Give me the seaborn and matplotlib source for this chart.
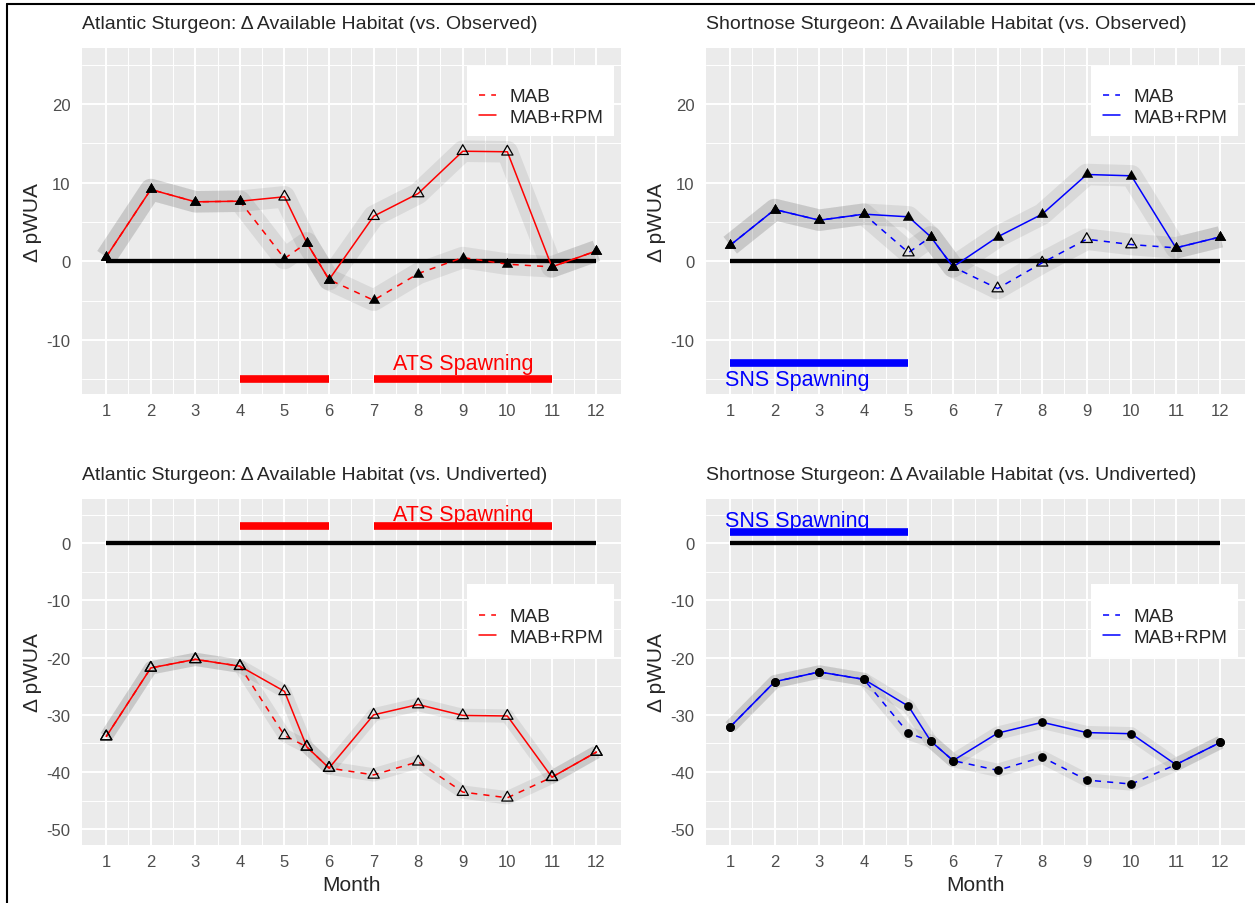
import numpy as np
import pandas as pd
import matplotlib
matplotlib.use("Agg")
import matplotlib.pyplot as plt
import seaborn as sns
from matplotlib.lines import Line2D
from matplotlib.patches import Rectangle

# ---------------- data ----------------
months = [1, 2, 3, 4, 5, 5.5, 6, 7, 8, 9, 10, 11, 12]
month_ticks = list(range(1, 13))
series_names = ["MAB", "MAB+RPM"]

# Atlantic sturgeon vs observed
ats_obs_mab = [0.55, 9.13, 7.56, 7.64, 0.34, 2.34, -2.34, -4.97, -1.57, 0.47, -0.38, -0.72, 1.32]
ats_obs_rpm = [0.55, 9.13, 7.56, 7.64, 8.20, 2.34, -2.34, 5.73, 8.62, 14.00, 13.93, -0.72, 1.32]
ats_obs_mab_shape = ["F", "F", "F", "F", "F", "F", "F", "F", "F", "F", "F", "F", "F"]
ats_obs_rpm_shape = ["F", "F", "F", "F", "O", "F", "F", "O", "O", "O", "O", "F", "F"]

# Shortnose sturgeon vs observed
sns_obs_mab = [2.04, 6.58, 5.22, 5.99, 1.10, 3.10, -0.72, -3.48, -0.20, 2.80, 2.12, 1.70, 3.10]
sns_obs_rpm = [2.04, 6.58, 5.22, 5.99, 5.65, 3.10, -0.72, 3.10, 5.99, 11.04, 10.87, 1.70, 3.10]
sns_obs_mab_shape = ["F", "F", "F", "F", "O", "F", "F", "O", "O", "O", "O", "F", "F"]
sns_obs_rpm_shape = ["F", "F", "F", "F", "F", "F", "F", "F", "F", "F", "F", "F", "F"]

# Atlantic sturgeon vs undiverted
ats_und_mab = [-33.8, -21.8, -20.3, -21.5, -33.6, -35.6, -39.3, -40.5, -38.2, -43.5, -44.5, -40.9, -36.5]
ats_und_rpm = [-33.8, -21.8, -20.3, -21.5, -25.9, -35.6, -39.3, -30.0, -28.2, -30.1, -30.2, -40.9, -36.5]
ats_und_shape = ["O"] * 13

# Shortnose sturgeon vs undiverted
sns_und_mab = [-32.1, -24.2, -22.5, -23.8, -33.2, -34.6, -38.0, -39.7, -37.4, -41.4, -42.1, -38.7, -34.8]
sns_und_rpm = [-32.1, -24.2, -22.5, -23.8, -28.5, -34.6, -38.0, -33.2, -31.3, -33.1, -33.3, -38.7, -34.8]
sns_und_shape = ["C"] * 13

ats_spawn_start = [4, 7]
ats_spawn_end = [6, 11]
sns_spawn_start = [1]
sns_spawn_end = [5]

# ---------------- style ----------------
sns.set_theme(style="darkgrid")
plt.rcParams["font.family"] = ["Liberation Sans", "DejaVu Sans"]

W, H = 1255, 904
fig = plt.figure(figsize=(W / 100, H / 100), dpi=100)
fig.patch.set_facecolor("white")

RED, BLUE = "#FF0000", "#0000FF"
TRI = (3, 0, 0)  # closed equilateral triangle pointing up


def add_ax(l, t, r, b):
    return fig.add_axes([l / W, 1 - b / H, (r - l) / W, (b - t) / H])


panels = [
    dict(box=(81.7, 49.3, 621, 395),
         title="Atlantic Sturgeon: \u0394 Available Habitat (vs. Observed)",
         mab=ats_obs_mab, rpm=ats_obs_rpm, mab_shape=ats_obs_mab_shape, rpm_shape=ats_obs_rpm_shape,
         color=RED, s_start=ats_spawn_start, s_end=ats_spawn_end, s_label="ATS Spawning",
         bar_y=-15, text_xy=(9, -13), ylim=(-16.9, 27.1), yt=[-10, 0, 10, 20],
         ymin=[-15, -5, 5, 15, 25], band=15.5, leg_box=(0.7139, 0.7455, 0.2737, 0.2024),
         leg_mid=0.830, xlabel=False),
    dict(box=(705.7, 49.3, 1245, 395),
         title="Shortnose Sturgeon: \u0394 Available Habitat (vs. Observed)",
         mab=sns_obs_mab, rpm=sns_obs_rpm, mab_shape=sns_obs_mab_shape, rpm_shape=sns_obs_rpm_shape,
         color=BLUE, s_start=sns_spawn_start, s_end=sns_spawn_end, s_label="SNS Spawning",
         bar_y=-13, text_xy=(2.5, -15), ylim=(-16.9, 27.1), yt=[-10, 0, 10, 20],
         ymin=[-15, -5, 5, 15, 25], band=15.5, leg_box=(0.7139, 0.7455, 0.2737, 0.2024),
         leg_mid=0.830, xlabel=False),
    dict(box=(81.7, 500, 621, 845.7),
         title="Atlantic Sturgeon: \u0394 Available Habitat (vs. Undiverted)",
         mab=ats_und_mab, rpm=ats_und_rpm, mab_shape=ats_und_shape, rpm_shape=ats_und_shape,
         color=RED, s_start=ats_spawn_start, s_end=ats_spawn_end, s_label="ATS Spawning",
         bar_y=3, text_xy=(9, 5), ylim=(-52.7, 7.73), yt=[-50, -40, -30, -20, -10, 0],
         ymin=[-45, -35, -25, -15, -5, 5], band=9.6, leg_box=(0.7139, 0.5421, 0.2737, 0.2120),
         leg_mid=0.6296, xlabel=True),
    dict(box=(705.7, 500, 1245, 845.7),
         title="Shortnose Sturgeon: \u0394 Available Habitat (vs. Undiverted)",
         mab=sns_und_mab, rpm=sns_und_rpm, mab_shape=sns_und_shape, rpm_shape=sns_und_shape,
         color=BLUE, s_start=sns_spawn_start, s_end=sns_spawn_end, s_label="SNS Spawning",
         bar_y=2, text_xy=(2.5, 4), ylim=(-52.7, 7.73), yt=[-50, -40, -30, -20, -10, 0],
         ymin=[-45, -35, -25, -15, -5, 5], band=9.6, leg_box=(0.7139, 0.5421, 0.2737, 0.2120),
         leg_mid=0.6296, xlabel=True),
]

for p in panels:
    ax = add_ax(*p["box"])
    ax.set_facecolor("#EBEBEB")
    for sp in ax.spines.values():
        sp.set_visible(False)

    df = pd.concat([
        pd.DataFrame({"month": months, "value": p["mab"], "scenario": "MAB", "shape": p["mab_shape"]}),
        pd.DataFrame({"month": months, "value": p["rpm"], "scenario": "MAB+RPM", "shape": p["rpm_shape"]}),
    ], ignore_index=True)

    # translucent grey bands
    for name in series_names:
        sub = df[df["scenario"] == name]
        sns.lineplot(data=sub, x="month", y="value", estimator=None, sort=False, ax=ax,
                     color="black", alpha=0.075, linewidth=p["band"], legend=False,
                     solid_capstyle="butt", solid_joinstyle="round", zorder=2)

    # zero reference line
    ax.hlines(0, months[0], months[-1], color="black", linewidth=3.1, zorder=3)

    # coloured lines
    sns.lineplot(data=df, x="month", y="value", style="scenario", style_order=series_names,
                 dashes={"MAB": (4, 4), "MAB+RPM": ""}, estimator=None, sort=False,
                 color=p["color"], linewidth=1.1, legend=False, ax=ax, zorder=4)

    # markers
    filled = df[df["shape"] == "F"]
    opened = df[df["shape"] == "O"]
    circ = df[df["shape"] == "C"]
    if len(filled):
        sns.scatterplot(data=filled, x="month", y="value", marker=TRI, s=90, color="black",
                        linewidth=0, legend=False, ax=ax, zorder=5)
    if len(opened):
        ax.scatter(opened["month"], opened["value"], marker=TRI, s=88, facecolors="none",
                   edgecolors="black", linewidths=0.9, zorder=5)
    if len(circ):
        sns.scatterplot(data=circ, x="month", y="value", marker="o", s=40, color="black",
                        linewidth=0, legend=False, ax=ax, zorder=5)

    # spawning annotation
    ax.text(p["text_xy"][0], p["text_xy"][1], p["s_label"], color=p["color"], ha="center",
            va="center", fontsize=15.5, zorder=6)
    bars = ax.hlines([p["bar_y"]] * len(p["s_start"]), p["s_start"], p["s_end"],
                     color=p["color"], linewidth=5.5, zorder=7)
    bars.set_capstyle("butt")

    # axes
    ax.set_xlim(0.45, 12.55)
    ax.set_ylim(*p["ylim"])
    ax.set_xticks(month_ticks)
    ax.set_xticklabels([str(m) for m in month_ticks])
    ax.set_xticks([m + 0.5 for m in month_ticks[:-1]], minor=True)
    ax.set_yticks(p["yt"])
    ax.set_yticklabels([str(v) for v in p["yt"]])
    ax.set_yticks(p["ymin"], minor=True)
    ax.grid(which="major", color="white", linewidth=1.4)
    ax.grid(which="minor", color="white", linewidth=0.7)
    ax.set_axisbelow(True)
    ax.tick_params(which="major", length=3.6, width=1.0, color="#333333", labelcolor="#4D4D4D",
                   labelsize=12)
    ax.tick_params(axis="x", which="major", pad=3)
    ax.tick_params(axis="y", which="major", pad=4.3)
    ax.tick_params(which="minor", length=0)

    ax.set_title(p["title"], loc="left", fontsize=14, y=1.0703, pad=0, va="center")
    ax.set_ylabel("\u0394 pWUA", fontsize=15)
    ax.yaxis.set_label_coords(-0.0745, 0.5)
    if p["xlabel"]:
        ax.set_xlabel("Month", fontsize=15)
        ax.xaxis.set_label_coords(0.5, -0.088)
    else:
        ax.set_xlabel("")

    # legend: white box + frameless legend
    lx, ly, lw_, lh_ = p["leg_box"]
    ax.add_patch(Rectangle((lx, ly), lw_, lh_, transform=ax.transAxes, facecolor="white",
                           edgecolor="none", zorder=10))
    handles = [Line2D([], [], color=p["color"], lw=1.1, dashes=(4, 4)),
               Line2D([], [], color=p["color"], lw=1.1)]
    leg = ax.legend(handles, series_names, loc="center left", bbox_to_anchor=(0.7367, p["leg_mid"]),
                    frameon=False, fontsize=13.7, handlelength=0.88, handletextpad=0.72,
                    labelspacing=0.18, borderpad=0, borderaxespad=0)
    leg.set_zorder(11)

# figure border (top and left edges)
fig.add_artist(Line2D([7 / W, 7 / W], [0, 1 - 5 / H], transform=fig.transFigure, color="black", lw=1.5))
fig.add_artist(Line2D([7 / W, 1], [1 - 5 / H, 1 - 5 / H], transform=fig.transFigure, color="black", lw=1.5))

fig.savefig("out.png", dpi=100)
